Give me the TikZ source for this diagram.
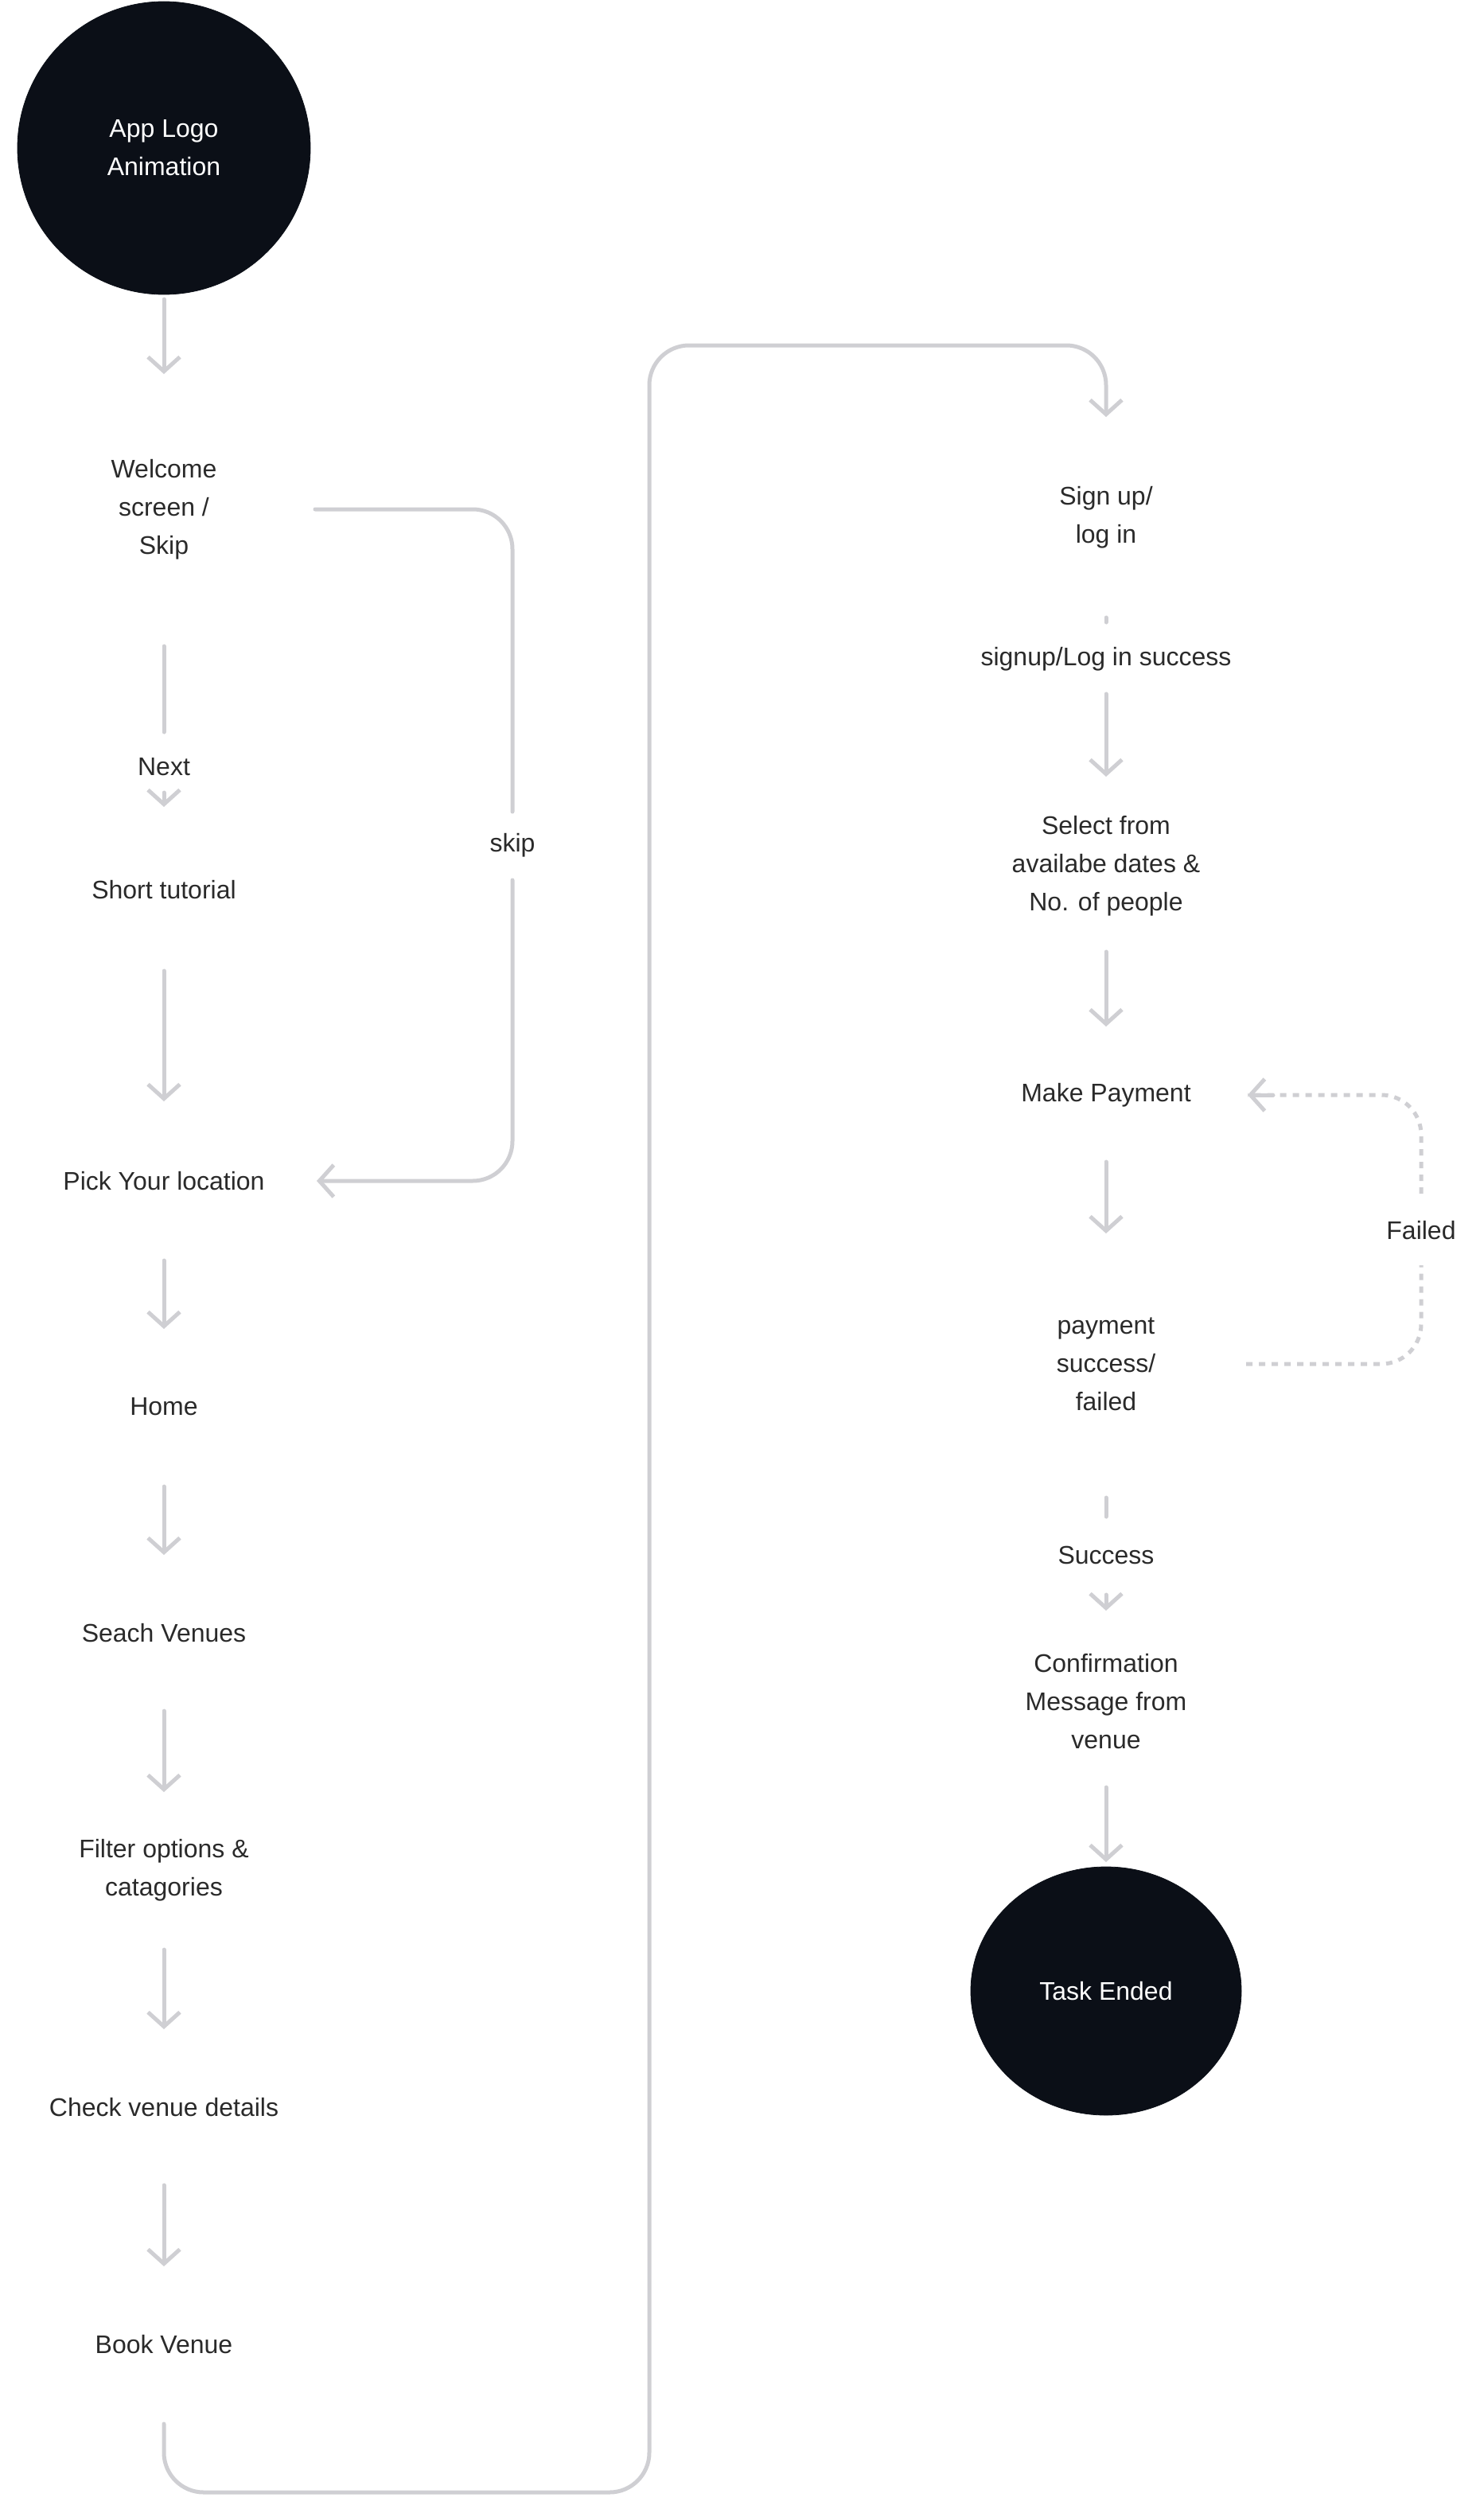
\documentclass[tikz,border=0pt]{standalone}
\usepackage{fontspec}
\setmainfont{Liberation Sans}
\usetikzlibrary{arrows.meta,shapes.geometric}
\definecolor{dark}{HTML}{0B0F17}
\definecolor{ln}{HTML}{CFCFD3}
\definecolor{txt}{HTML}{2A2A2A}
\begin{document}
\begin{tikzpicture}[x=1pt,y=-1pt,
  lbl/.style={text=txt,align=center,font=\fontsize{16}{24}\selectfont},
  con/.style={draw=ln,line width=2.5pt,line cap=round,rounded corners=25pt},
  arr/.style={con,-{Straight Barb[length=9pt,width=20pt,line width=2.5pt]}},
  dsh/.style={con,dash pattern=on 4pt off 4pt,line cap=butt},
  blob/.style={fill=dark,draw=dark,text=white,align=center,font=\fontsize{16}{24}\selectfont}]
\useasboundingbox (0,0) rectangle (932,1579);
% left column
\node[blob,circle,minimum size=184pt] (logo) at (103,93) {App Logo\\Animation};
\node[lbl] (welcome) at (103,320) {Welcome\\screen /\\Skip};
\node[lbl] (next) at (103,482) {Next};
\node[lbl] (tut) at (103,559) {Short tutorial};
\node[lbl] (loc) at (103,742) {Pick Your location};
\node[lbl] (home) at (103,884) {Home};
\node[lbl] (search) at (103,1026) {Seach Venues};
\node[lbl] (filter) at (103,1175) {Filter options \&\\catagories};
\node[lbl] (check) at (103,1324) {Check venue details};
\node[lbl] (book) at (103,1473) {Book Venue};
\node[lbl] (skip) at (322,531) {skip};
% right column
\node[lbl] (sign) at (695,325) {Sign up/\\log in};
\node[lbl] (signok) at (695,414) {signup/Log in success};
\node[lbl] (select) at (695,544) {Select from\\availabe dates \&\\No. of people};
\node[lbl] (pay) at (695,688) {Make Payment};
\node[lbl] (payres) at (695,857) {payment\\success/\\failed};
\node[lbl] (succ) at (695,977) {Success};
\node[lbl] (conf) at (695,1069) {Confirmation\\Message from\\venue};
\node[blob,ellipse,minimum width=170pt,minimum height=156pt] (end) at (695,1251) {Task Ended};
\node[lbl] (failed) at (893,773) {Failed};
% connectors
\coordinate (a1) at (103,188); \coordinate (a2) at (103,235);
\draw[arr] (a1) -- (a2);
\coordinate (s1) at (198,320); \coordinate (s2) at (322,320); \coordinate (s3) at (322,510);
\draw[con] (s1) -- (s2) -- (s3);
\coordinate (s4) at (322,553); \coordinate (s5) at (322,742); \coordinate (s6) at (199,742);
\draw[arr] (s4) -- (s5) -- (s6);
\coordinate (n1) at (103,406); \coordinate (n2) at (103,460);
\draw[con] (n1) -- (n2);
\coordinate (n3) at (103,498); \coordinate (n4) at (103,507);
\draw[arr] (n3) -- (n4);
\foreach \p/\q in {610/692,792/835,934/977,1075/1126,1225/1275,1373/1424}{
  \draw[arr] (103,\p) -- (103,\q);}
\coordinate (b1) at (103,1523); \coordinate (b2) at (103,1566); \coordinate (b3) at (408,1566);
\coordinate (b4) at (408,217); \coordinate (b5) at (695,217); \coordinate (b6) at (695,262);
\draw[arr] (b1) -- (b2) -- (b3) -- (b4) -- (b5) -- (b6);
\draw[con] (695,388) -- (695,391);
\foreach \p/\q in {436/488,598/645,730/775,1123/1170}{
  \draw[arr] (695,\p) -- (695,\q);}
\draw[con] (695,941) -- (695,953);
\draw[arr] (695,1002) -- (695,1012);
\coordinate (f1) at (783,857); \coordinate (f2) at (893,857); \coordinate (f3) at (893,795);
\draw[dsh] (f1) -- (f2) -- (f3);
\coordinate (f4) at (893,750); \coordinate (f5) at (893,688); \coordinate (f6) at (784,688);
\draw[dsh] (f4) -- (f5) -- (f6);
\draw[con,-{Straight Barb[length=9pt,width=20pt,line width=2.5pt]}] (800,688) -- (f6);
\end{tikzpicture}
\end{document}
